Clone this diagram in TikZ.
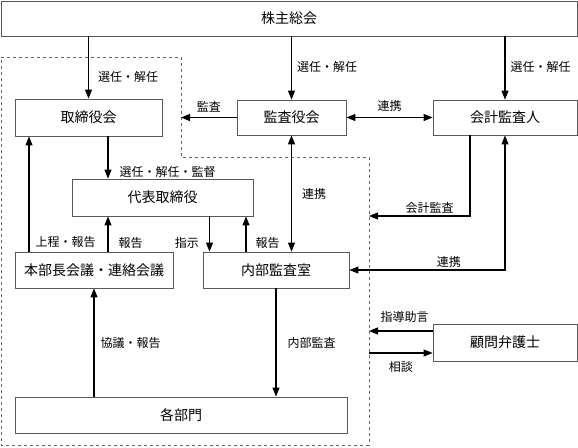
\documentclass[tikz,border=0pt]{standalone}
\usepackage{fontspec}
\setmainfont{Noto Sans CJK JP}
\usetikzlibrary{arrows,arrows.meta}

\begin{document}
\begin{tikzpicture}[x=1pt,y=-1pt,->,>={Triangle[length=9pt,width=7pt]},line width=1.1pt,
		box/.style={draw=black!65,line width=0.8pt,rectangle,inner sep=0pt,
			font=\fontsize{14}{14}\selectfont},
		lbl/.style={font=\fontsize{12}{12}\selectfont,inner sep=1pt}]
	\useasboundingbox (0,0) rectangle (578,447);
	%\tikzstyle{every node}=[draw=none]
	\node[box,minimum width=576pt,minimum height=35pt] (kabu)   at (289,18.5)  {株主総会};
	\node[box,minimum width=147pt,minimum height=37pt] (tori)   at (88.5,117.5) {取締役会};
	\node[box,minimum width=109pt,minimum height=35pt] (kansa)  at (291.5,117.5) {監査役会};
	\node[box,minimum width=144pt,minimum height=35pt] (kaikei) at (505,117.5) {会計監査人};
	\node[box,minimum width=181pt,minimum height=37pt] (daihyo) at (162.5,197.5) {代表取締役};
	\node[box,minimum width=158pt,minimum height=36pt] (honbu)  at (94,270) {本部長会議・連絡会議};
	\node[box,minimum width=146pt,minimum height=36pt] (naibu)  at (276,270) {内部監査室};
	\node[box,minimum width=144pt,minimum height=37pt] (komon)  at (505,342.5) {顧問弁護士};
	\node[box,minimum width=332pt,minimum height=36pt] (kakubu) at (181,415) {各部門};
	\draw[-,dashed,black!60,line width=0.8pt] (1,57) -- (181,57) -- (181,157) -- (369,157)
		-- (369,445) -- (1,445) -- cycle;
	\coordinate (d1) at (181,117.5);
	\coordinate (d2) at (369,216);
	\coordinate (d3) at (369,331);
	\coordinate (d4) at (369,353);
	\draw (kabu.south -| tori.north) -- (tori.north) node[lbl,pos=.65,right=8pt] {選任・解任};
	\draw (kabu.south -| kansa.north) -- (kansa.north) node[lbl,pos=.48,right=4pt] {選任・解任};
	\draw (kabu.south -| kaikei.north) -- (kaikei.north) node[lbl,pos=.48,right=4pt] {選任・解任};
	\draw (kansa.west) -- (d1) node[lbl,midway,above=4pt] {監査};
	\draw[<->] (kansa.east) -- (kaikei.west) node[lbl,midway,above=4pt] {連携};
	\draw ([xshift=19.5pt]tori.south) -- ([xshift=19.5pt]tori.south |- daihyo.north)
		node[lbl,pos=.84,right=10pt] {選任・解任・監督};
	\draw ([xshift=-65pt]honbu.north) -- ([xshift=-65pt]honbu.north |- tori.south)
		node[lbl,pos=.08,right=5pt] {上程・報告};
	\draw ([xshift=14pt]honbu.north) -- ([xshift=14pt]honbu.north |- daihyo.south)
		node[lbl,pos=.25,right=9pt] {報告};
	\draw ([xshift=47pt]daihyo.south) -- ([xshift=47pt]daihyo.south |- naibu.north)
		node[lbl,pos=.75,left=9pt] {指示};
	\draw ([xshift=-30pt]naibu.north) -- ([xshift=-30pt]naibu.north |- daihyo.south)
		node[lbl,pos=.25,right=8pt] {報告};
	\draw[<->] (kansa.south) -- (naibu.north -| kansa.south) node[lbl,pos=.5,right=9pt] {連携};
	\draw ([xshift=-35pt]kaikei.south) |- (d2) node[lbl,pos=.7,above=1pt] {会計監査};
	\draw[<->] (naibu.east) -| (kaikei.south) node[lbl,pos=.32,above=1pt] {連携};
	\draw (komon.west |- d3) -- (d3) node[lbl,pos=.44,above=7pt] {指導助言};
	\draw (d4) -- (komon.west |- d4) node[lbl,pos=.5,below=7pt] {相談};
	\draw (kakubu.north -| honbu.south) -- (honbu.south) node[lbl,pos=.5,right=5pt] {協議・報告};
	\draw (naibu.south) -- (kakubu.north -| naibu.south) node[lbl,pos=.5,right=10pt] {内部監査};
\end{tikzpicture}
\end{document}
